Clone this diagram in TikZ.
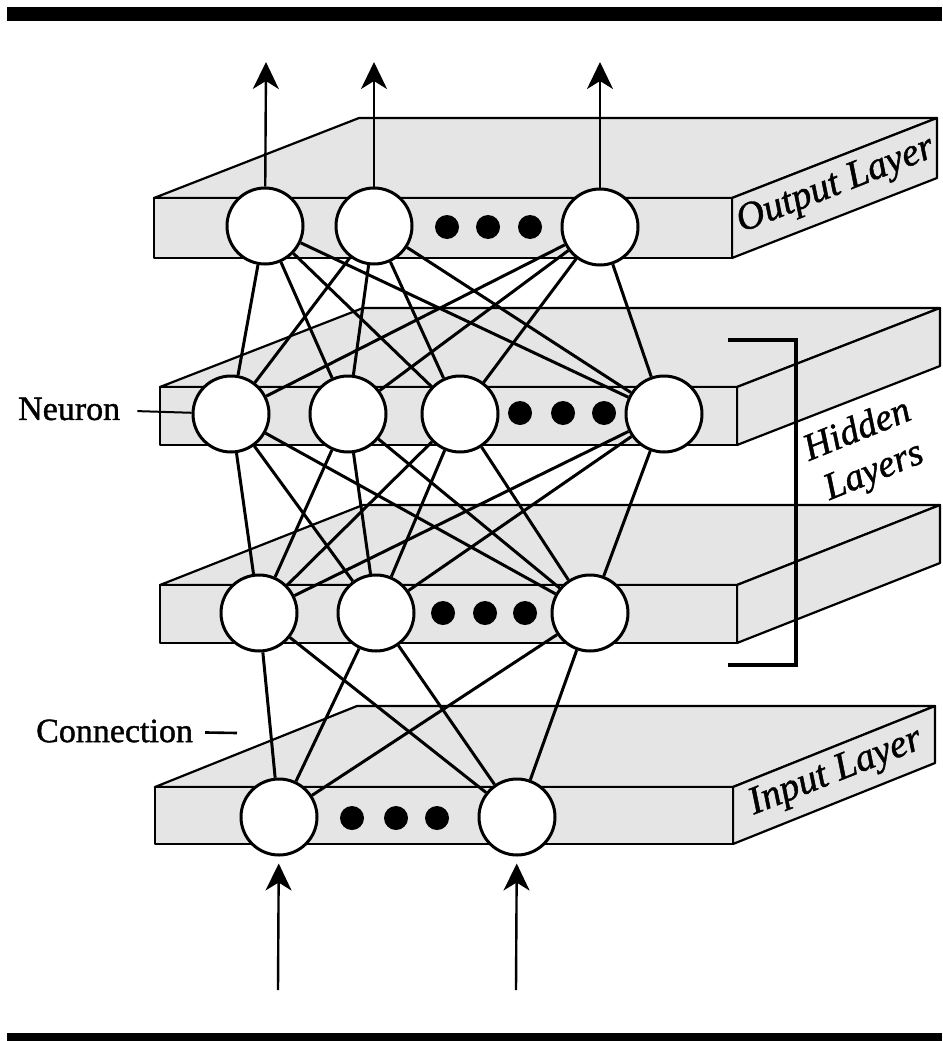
\documentclass[tikz,border=0pt]{standalone}
\usepackage{fontspec}
\setmainfont{Liberation Serif}[FakeBold=1.2]
\usetikzlibrary{arrows.meta}

\begin{document}
\begin{tikzpicture}[x=1pt,y=-1pt]
		\useasboundingbox (0,0) rectangle (942,1041);
		\fill[black] (7,7) rectangle (942,21); %rules
		\fill[black] (7,1033) rectangle (942,1041);
		\tikzset{myslab/.style={fill=black!10,draw=black,line width=2.2pt,line join=round}} %layer plates
		\filldraw[myslab] (154,198) -- ++(205,-80) -- ++(578,0) -- ++(-205,80) -- cycle; % output layer
		\filldraw[myslab] (732,198) -- ++(205,-80) -- ++(0,60) -- ++(-205,80) -- cycle;
		\filldraw[myslab] (154,198) rectangle ++(578,60);
		\filldraw[myslab] (160,387) -- ++(203,-79) -- ++(577,0) -- ++(-203,79) -- cycle; % first hidden layer
		\filldraw[myslab] (737,387) -- ++(203,-79) -- ++(0,58) -- ++(-203,79) -- cycle;
		\filldraw[myslab] (160,387) rectangle ++(577,58);
		\filldraw[myslab] (160,585) -- ++(203,-80) -- ++(577,0) -- ++(-203,80) -- cycle; % second hidden layer
		\filldraw[myslab] (737,585) -- ++(203,-80) -- ++(0,58) -- ++(-203,80) -- cycle;
		\filldraw[myslab] (160,585) rectangle ++(577,58);
		\filldraw[myslab] (155,787) -- ++(202,-81) -- ++(578,0) -- ++(-202,81) -- cycle; % input layer
		\filldraw[myslab] (733,787) -- ++(202,-81) -- ++(0,57) -- ++(-202,81) -- cycle;
		\filldraw[myslab] (155,787) rectangle ++(578,57);
		\tikzset{myneurons/.style={circle,draw=black,fill=white,line width=3pt,minimum size=76pt,inner sep=0pt}} %neurons
		\node[myneurons] (O1) at (265,226) {};
		\node[myneurons] (O2) at (374,226) {};
		\node[myneurons] (O3) at (600,227) {};
		\node[myneurons] (H1) at (231,414) {};
		\node[myneurons] (H2) at (348,414) {};
		\node[myneurons] (H3) at (460,414) {};
		\node[myneurons] (H4) at (664,414) {};
		\node[myneurons] (K1) at (259,613) {};
		\node[myneurons] (K2) at (376,613) {};
		\node[myneurons] (K3) at (590,613) {};
		\node[myneurons] (I1) at (279,817) {};
		\node[myneurons] (I2) at (517,817) {};
		\fill (447,227) circle (12pt); \fill (488,227) circle (12pt); \fill (530,227) circle (12pt); %dots
		\fill (520,413) circle (12pt); \fill (563,413) circle (12pt); \fill (604,413) circle (12pt);
		\fill (443,613) circle (12pt); \fill (485,613) circle (12pt); \fill (525,613) circle (12pt);
		\fill (352,818) circle (12pt); \fill (396,818) circle (12pt); \fill (437,818) circle (12pt);
		\tikzset{myconn/.style={draw=black,line width=3pt}} %connections
		\draw[myconn] (O1)--(H1) (O1)--(H2) (O1)--(H3) (O1)--(H4);
		\draw[myconn] (O2)--(H1) (O2)--(H2) (O2)--(H3) (O2)--(H4);
		\draw[myconn] (O3)--(H1) (O3)--(H2) (O3)--(H3) (O3)--(H4);
		\draw[myconn] (H1)--(K1) (H1)--(K2) (H1)--(K3);
		\draw[myconn] (H2)--(K1) (H2)--(K2) (H2)--(K3);
		\draw[myconn] (H3)--(K1) (H3)--(K2) (H3)--(K3);
		\draw[myconn] (H4)--(K1) (H4)--(K2) (H4)--(K3);
		\draw[myconn] (K1)--(I1) (K1)--(I2);
		\draw[myconn] (K2)--(I1) (K2)--(I2);
		\draw[myconn] (K3)--(I1) (K3)--(I2);
		\tikzset{myarrow/.style={-{Stealth[length=27pt,width=26pt,inset=8pt]},line width=2.4pt}} %in and out
		\coordinate (out1) at (266,62);
		\coordinate (out2) at (374,62);
		\coordinate (out3) at (600,62);
		\coordinate (in1) at (278,990);
		\coordinate (in2) at (516,990);
		\draw[myarrow] (O1)--(out1);
		\draw[myarrow] (O2)--(out2);
		\draw[myarrow] (O3)--(out3);
		\draw[myarrow,shorten >=7pt] (in1)--(I1);
		\draw[myarrow,shorten >=7pt] (in2)--(I2);
		\draw[line width=3.5pt] (728,340) -- (796,340) -- (796,665) -- (728,665); % bracket
		\node[anchor=west,inner sep=0pt,font=\fontsize{34}{40}\selectfont] (neuron) at (18,409) {Neuron};
		\node[anchor=west,inner sep=0pt,font=\fontsize{34}{40}\selectfont] (connection) at (36,731) {Connection};
		\coordinate (conntip) at (237,733);
		\draw[line width=2pt,shorten <=17pt] (neuron)--(H1);
		\draw[line width=2.6pt,shorten <=12pt] (connection)--(conntip);
		\node[rotate=21.5,inner sep=1pt,font=\itshape\fontsize{39}{40}\selectfont] (outlabel) at (836,186) {Output Layer};
		\node[rotate=21.5,inner sep=1pt,font=\itshape\fontsize{39}{40}\selectfont] (inlabel) at (836,773) {Input Layer};
		\node[rotate=22,align=center,inner sep=1pt,font=\itshape\fontsize{38}{44}\selectfont] (hidlabel) at (866,452) {Hidden\\Layers};
	\end{tikzpicture}
\end{document}
